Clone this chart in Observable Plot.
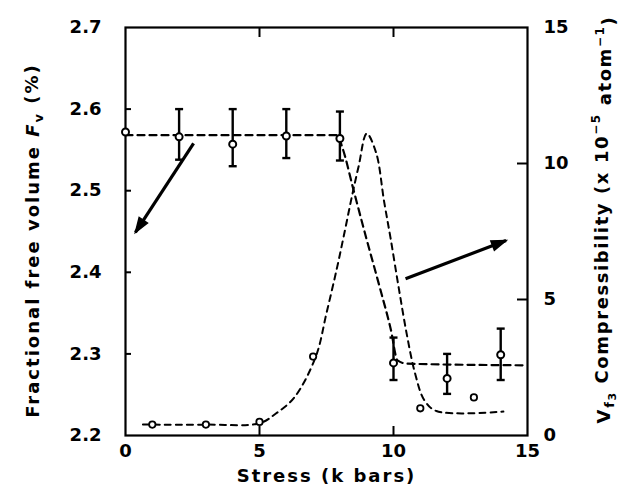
<!DOCTYPE html>
<html><head><meta charset="utf-8">
<script src="https://cdn.jsdelivr.net/npm/d3@7"></script>
<script src="https://cdn.jsdelivr.net/npm/@observablehq/plot@0.6"></script>
<style>
html,body{margin:0;padding:0;background:#fff;}
</style>
</head><body><div id="chart"></div>
<script>
// ---- data ----
const stress       = [0, 2, 4, 6, 8, 10, 12, 14];
const freeVolume   = [2.572, 2.566, 2.557, 2.567, 2.564, 2.289, 2.270, 2.299];
const fvErrLow     = [null, 2.538, 2.530, 2.540, 2.537, 2.268, 2.251, 2.268];
const fvErrHigh    = [null, 2.600, 2.600, 2.600, 2.597, 2.320, 2.300, 2.331];

const fvCurveX     = [0, 7.9, 8.1, 8.5, 9.0, 9.5, 9.9, 10.15, 10.5, 15];
const fvCurveY     = [2.568, 2.568, 2.552, 2.502, 2.44, 2.38, 2.33, 2.292, 2.288, 2.286];

const compStress   = [1, 3, 5, 7, 11, 13];
const compValues   = [0.4, 0.4, 0.5, 2.9, 1.0, 1.4];

const compCurveX   = [0.65, 1, 3, 5, 5.6, 6.3, 7.1, 7.5, 7.9, 8.2, 8.45, 8.7, 9.0, 9.35, 9.65, 9.9, 10.2, 10.5, 10.8, 11.15, 11.6, 14.1];
const compCurveY   = [0.4, 0.4, 0.4, 0.45, 0.8, 1.4, 2.9, 4.5, 6.2, 7.6, 8.8, 9.9, 11.1, 10.4, 8.6, 7.2, 5.4, 3.7, 2.3, 1.3, 0.9, 0.88];

const arrowFromX   = [2.54, 10.45];
const arrowFromY   = [2.558, 2.392];
const arrowToX     = [0.37, 14.2];
const arrowToY     = [2.449, 2.439];

const xTicks       = [0, 5, 10, 15];
const leftTicks    = [2.2, 2.3, 2.4, 2.5, 2.6, 2.7];
const rightTicks   = [0, 5, 10, 15];
const innerXTicks  = [5, 10];
const innerLeftTicks  = [2.3, 2.4, 2.5, 2.6];
const innerRightTicks = [5, 10];

const xTitle = "Stress (k bars)";
const leftTitle = "Fractional free volume Fv (%)";
const rightTitle = "Vf3 Compressibility (x 10-5 atom-1)";

// ---- layout ----
const W = 622, H = 494;
const mL = 125, mR = 95, mT = 27, mB = 59;
const innerW = W - mL - mR, innerH = H - mT - mB;
const yMin = 2.2, yMax = 2.7, compMax = 15, xMax = 15;
const toY = c => yMin + c * (yMax - yMin) / compMax;      // right axis -> left axis units
const fromY = y => (y - yMin) * compMax / (yMax - yMin);
const pxPerX = innerW / xMax, pxPerY = innerH / (yMax - yMin);

const fvIdx = d3.range(stress.length);
const fvErrIdx = fvIdx.filter(i => fvErrLow[i] != null);
const fvCurveIdx = d3.range(fvCurveX.length);
const compIdx = d3.range(compStress.length);
const compCurveIdx = d3.range(compCurveX.length);
const arrowIdx = d3.range(arrowFromX.length);
// screen direction of each arrow (degrees clockwise from "up")
const arrowAngle = i => Math.atan2((arrowToX[i] - arrowFromX[i]) * pxPerX, (arrowToY[i] - arrowFromY[i]) * pxPerY) * 180 / Math.PI;

const capSymbol = {
  draw(context, size) {
    const w = Math.sqrt(size / Math.PI);
    context.moveTo(-w, 0);
    context.lineTo(w, 0);
  }
};
const headSymbol = {   // filled triangle with its tip at the origin, pointing up
  draw(context, size) {
    const s = Math.sqrt(size / Math.PI);
    context.moveTo(0, 0);
    context.lineTo(-s * 0.55, s * 1.6);
    context.lineTo(s * 0.55, s * 1.6);
    context.closePath();
  }
};

const chart = Plot.plot({
  width: W, height: H,
  marginLeft: mL, marginRight: mR, marginTop: mT, marginBottom: mB,
  x: {domain: [0, xMax]},
  y: {domain: [yMin, yMax]},
  style: {fontFamily: "'DejaVu Sans', sans-serif", fontWeight: "bold", fontSize: "18px", color: "black", background: "white"},
  marks: [
    Plot.axisX(xTicks, {anchor: "bottom", tickSize: 0, tickPadding: 9, label: null, tickFormat: d => String(d)}),
    Plot.axisY(leftTicks, {anchor: "left", tickSize: 0, tickPadding: 24, label: null, tickFormat: d3.format(".1f")}),
    Plot.axisY(rightTicks.map(toY), {anchor: "right", tickSize: 0, tickPadding: 16, label: null, tickFormat: d => String(Math.round(fromY(d)))}),
    // inward ticks
    Plot.ruleX(innerXTicks, {x: d => d, insetTop: innerH - 9, strokeWidth: 2}),
    Plot.ruleX(innerXTicks, {x: d => d, insetBottom: innerH - 10, strokeWidth: 2}),
    Plot.ruleY(innerLeftTicks, {y: d => d, insetRight: innerW - 6, strokeWidth: 2}),
    Plot.ruleY(innerRightTicks.map(toY), {y: d => d, insetLeft: innerW - 10, strokeWidth: 2}),
    Plot.frame({strokeWidth: 2.2}),
    // free volume fitted curve
    Plot.line(fvCurveIdx, {x: i => fvCurveX[i], y: i => fvCurveY[i], curve: "monotone-x", strokeDasharray: "7,5", strokeWidth: 2.2}),
    // compressibility fitted curve
    Plot.line(compCurveIdx, {x: i => compCurveX[i], y: i => toY(compCurveY[i]), curve: "catmull-rom", strokeDasharray: "6,5", strokeWidth: 2}),
    // error bars
    Plot.ruleX(fvErrIdx, {x: i => stress[i], y1: i => fvErrLow[i], y2: i => fvErrHigh[i], strokeWidth: 2.4}),
    Plot.dot(fvErrIdx, {x: i => stress[i], y: i => fvErrLow[i], symbol: capSymbol, r: 4, fill: "none", stroke: "black", strokeWidth: 2.4}),
    Plot.dot(fvErrIdx, {x: i => stress[i], y: i => fvErrHigh[i], symbol: capSymbol, r: 4, fill: "none", stroke: "black", strokeWidth: 2.4}),
    // points
    Plot.dot(fvIdx, {x: i => stress[i], y: i => freeVolume[i], r: 3.5, fill: "white", stroke: "black", strokeWidth: 2}),
    Plot.dot(compIdx, {x: i => compStress[i], y: i => toY(compValues[i]), r: 3.2, fill: "white", stroke: "black", strokeWidth: 1.8}),
    // arrows
    Plot.link(arrowIdx, {x1: i => arrowFromX[i], y1: i => arrowFromY[i], x2: i => arrowToX[i], y2: i => arrowToY[i], strokeWidth: 3.2, stroke: "black"}),
    Plot.dot(arrowIdx, {x: i => arrowToX[i], y: i => arrowToY[i], symbol: headSymbol, r: 9, rotate: i => arrowAngle(i), fill: "black", stroke: "black", strokeWidth: 1.5, strokeLinejoin: "miter"}),
    // titles
    Plot.text([xTitle], {text: d => d, frameAnchor: "bottom", textAnchor: "middle", dy: 46, fontSize: 18, fontWeight: "bold"}),
    Plot.text([leftTitle], {text: d => d, frameAnchor: "left", textAnchor: "middle", rotate: -90, dx: -92, dy: 9, fontSize: 18, fontWeight: "bold"}),
    Plot.text([rightTitle], {text: d => d, frameAnchor: "right", textAnchor: "middle", rotate: -90, dx: 77, dy: -12, fontSize: 18, fontWeight: "bold"})
  ]
});

// rich-text titles (subscripts / superscripts)
function rebuild(el, parts) {
  el.textContent = "";
  for (const p of parts) {
    const t = document.createElementNS("http://www.w3.org/2000/svg", "tspan");
    t.textContent = p.t;
    if (p.dy) t.setAttribute("dy", p.dy);
    if (p.fs) t.setAttribute("font-size", p.fs);
    if (p.it) t.setAttribute("font-style", "italic");
    el.appendChild(t);
  }
}
for (const el of chart.querySelectorAll("text")) {
  const s = el.textContent;
  if (s === xTitle) {
    el.setAttribute("letter-spacing", "2");
  } else if (s === leftTitle) {
    el.setAttribute("letter-spacing", "2");
    rebuild(el, [
      {t: "Fractional free volume "},
      {t: "F", it: true},
      {t: "v", dy: "0.3em", fs: "13"},
      {t: " (%)", dy: "-0.3em"}
    ]);
  } else if (s === rightTitle) {
    el.setAttribute("letter-spacing", "1.6");
    rebuild(el, [
      {t: "V"},
      {t: "f", dy: "0.25em", fs: "13"},
      {t: "3", dy: "0.2em", fs: "11"},
      {t: " Compressibility (x 10", dy: "-0.45em"},
      {t: "\u22125", dy: "-0.6em", fs: "12"},
      {t: " atom", dy: "0.6em"},
      {t: "\u22121", dy: "-0.6em", fs: "12"},
      {t: ")", dy: "0.6em"}
    ]);
  }
}

document.getElementById("chart").appendChild(chart);
</script>
</body></html>
